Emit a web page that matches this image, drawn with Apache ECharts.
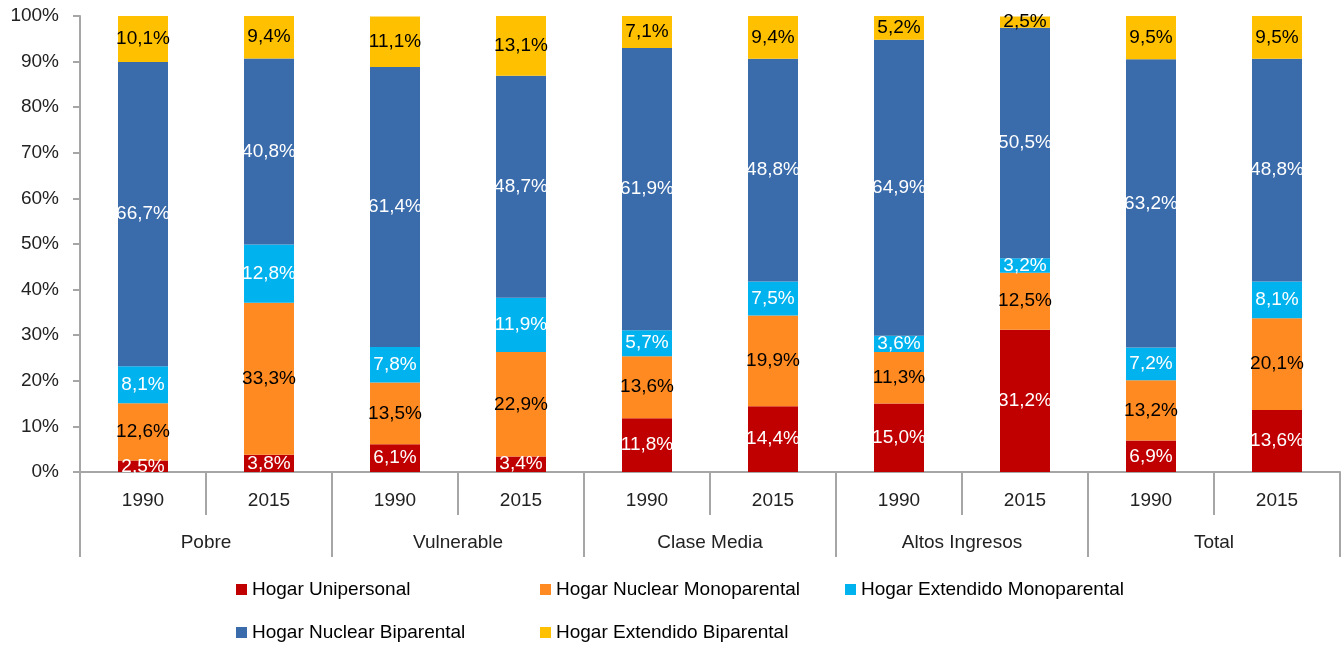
<!DOCTYPE html>
<html>
<head>
<meta charset="utf-8">
<script src="https://cdn.jsdelivr.net/npm/echarts@6/dist/echarts.min.js"></script>
<style>
  html, body { margin: 0; padding: 0; background: #fff; }
  #chart { width: 1343px; height: 645px; }
</style>
</head>
<body>
<div id="chart"></div>
<script>
const years = ['1990', '2015', '1990', '2015', '1990', '2015', '1990', '2015', '1990', '2015']
const groups = ['Pobre', 'Vulnerable', 'Clase Media', 'Altos Ingresos', 'Total']

const unipersonal = [2.5, 3.8, 6.1, 3.4, 11.8, 14.4, 15.0, 31.2, 6.9, 13.6]
const nuclearMono = [12.6, 33.3, 13.5, 22.9, 13.6, 19.9, 11.3, 12.5, 13.2, 20.1]
const extendidoMono = [8.1, 12.8, 7.8, 11.9, 5.7, 7.5, 3.6, 3.2, 7.2, 8.1]
const nuclearBi = [66.7, 40.8, 61.4, 48.7, 61.9, 48.8, 64.9, 50.5, 63.2, 48.8]
const extendidoBi = [10.1, 9.4, 11.1, 13.1, 7.1, 9.4, 5.2, 2.5, 9.5, 9.5]

const yTicks = [0, 10, 20, 30, 40, 50, 60, 70, 80, 90, 100]

const font = 'Liberation Sans, Arial, sans-serif'
const axisGray = '#a6a6a6'

const seriesDefs = [
  { name: 'Hogar Unipersonal', data: unipersonal, color: '#C00000', text: '#fff' },
  { name: 'Hogar Nuclear Monoparental', data: nuclearMono, color: '#FF8A22', text: '#000' },
  { name: 'Hogar Extendido Monoparental', data: extendidoMono, color: '#00B2EE', text: '#fff' },
  { name: 'Hogar Nuclear Biparental', data: nuclearBi, color: '#3A6BAA', text: '#fff' },
  { name: 'Hogar Extendido Biparental', data: extendidoBi, color: '#FFC000', text: '#000' }
]

// legend layout: two rows, fixed columns
const legendPos = [
  [236, 580], [540, 580], [845, 580],
  [236, 623], [540, 623]
]

const fmt = v => v.toFixed(1).replace('.', ',') + '%'

const option = {
  animation: false,
  grid: { left: 80, right: 3, top: 16, bottom: 173 },
  xAxis: [
    {
      type: 'category',
      position: 'bottom',
      data: years,
      axisLine: { show: true, lineStyle: { color: axisGray, width: 2 } },
      axisTick: { show: true, length: 43, interval: 0, alignWithLabel: false, lineStyle: { color: axisGray, width: 2 } },
      axisLabel: { interval: 0, margin: 19, fontSize: 19, color: '#222', fontFamily: font }
    },
    {
      type: 'category',
      position: 'bottom',
      data: groups,
      axisLine: { show: false },
      axisTick: { show: true, length: 85, interval: 0, alignWithLabel: false, lineStyle: { color: axisGray, width: 2 } },
      axisLabel: { interval: 0, margin: 61, fontSize: 19, color: '#222', fontFamily: font }
    }
  ],
  yAxis: {
    type: 'value',
    min: yTicks[0],
    max: yTicks[yTicks.length - 1],
    interval: 10,
    axisLine: { show: true, lineStyle: { color: axisGray, width: 2 } },
    axisTick: { show: true, length: 7, lineStyle: { color: axisGray, width: 2 } },
    splitLine: { show: false },
    axisLabel: { margin: 21, fontSize: 19, color: '#222', fontFamily: font, formatter: v => v + '%' }
  },
  legend: seriesDefs.map((s, i) => ({
    data: [s.name],
    left: legendPos[i][0],
    top: legendPos[i][1],
    icon: 'rect',
    itemWidth: 11,
    itemHeight: 11,
    itemGap: 5,
    padding: 0,
    selectedMode: false,
    textStyle: { fontSize: 19, color: '#000', fontFamily: font, padding: [0, 0, 0, 0] }
  })),
  series: seriesDefs.map(s => ({
    name: s.name,
    type: 'bar',
    stack: 'total',
    barWidth: 50,
    data: s.data,
    itemStyle: { color: s.color },
    label: {
      show: true,
      position: 'inside',
      fontSize: 19,
      fontFamily: font,
      color: s.text,
      formatter: p => fmt(p.value)
    }
  }))
}

const chart = echarts.init(document.getElementById('chart'))
chart.setOption(option)
</script>
</body>
</html>
